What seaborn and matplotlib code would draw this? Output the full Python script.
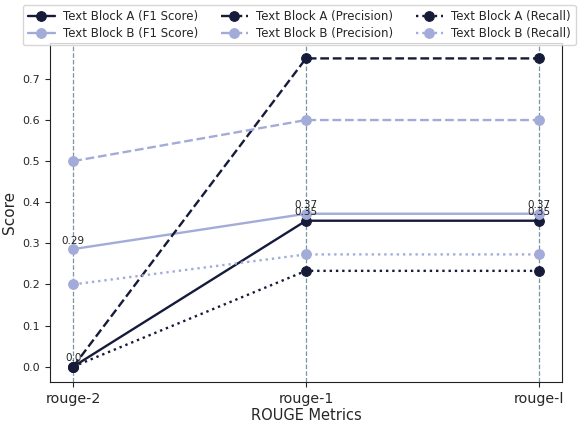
import seaborn as sns
import matplotlib.pyplot as plt
import pandas as pd
import numpy as np

# ROUGE scores
metrics = ['rouge-2', 'rouge-1', 'rouge-l']
a_f1 = [0.0, 0.355, 0.355]
a_precision = [0.0, 0.75, 0.75]
a_recall = [0.0, 0.233, 0.233]
b_f1 = [0.286, 0.372, 0.372]
b_precision = [0.5, 0.6, 0.6]
b_recall = [0.2, 0.273, 0.273]

dark = '#151b38'
light = '#a3acd9'

sns.set_style('ticks')

fig = plt.figure(figsize=(5.87, 4.25), dpi=100)
ax = fig.add_axes([50 / 587, 43 / 425, 512 / 587, 339 / 425])

series = [
    ('Text Block A (F1 Score)', a_f1, dark, '-'),
    ('Text Block B (F1 Score)', b_f1, light, '-'),
    ('Text Block A (Precision)', a_precision, dark, '--'),
    ('Text Block B (Precision)', b_precision, light, '--'),
    ('Text Block A (Recall)', a_recall, dark, ':'),
    ('Text Block B (Recall)', b_recall, light, ':'),
]

for label, vals, color, ls in series:
    df = pd.DataFrame({'metric': metrics, 'score': vals})
    sns.lineplot(data=df, x='metric', y='score', color=color, linestyle=ls,
                 marker='o', markersize=7, markeredgecolor=color,
                 linewidth=1.7, label=label, sort=False, ax=ax)

# value labels for the F1 lines
for vals in [a_f1, b_f1]:
    for i, v in enumerate(vals):
        ax.text(i, v + 0.008, str(round(v, 2)), ha='center', va='bottom',
                fontsize=7.5, color='#222222')

ax.grid(axis='x', linestyle='--', color='#6a8c96', linewidth=0.9, alpha=0.9)
ax.set_yticks(np.arange(0, 0.75, 0.1))
ax.tick_params(axis='y', labelsize=8)
ax.tick_params(axis='x', labelsize=10.3)
ax.set_xlabel('ROUGE Metrics', fontsize=10.5, labelpad=2)
ax.set_ylabel('Score', fontsize=11)
for s in ax.spines.values():
    s.set_color('#222222')

handles, labels = ax.get_legend_handles_labels()
leg = ax.legend(handles, labels, loc='upper left',
                bbox_to_anchor=(23 / 587, 1 - 5 / 425),
                bbox_transform=fig.transFigure,
                ncol=3, fontsize=8.5, frameon=True, handlelength=2.3,
                handletextpad=0.7, columnspacing=1.9, borderpad=0.4,
                labelspacing=0.4, borderaxespad=0)

fig.savefig('out.png', dpi=100)
